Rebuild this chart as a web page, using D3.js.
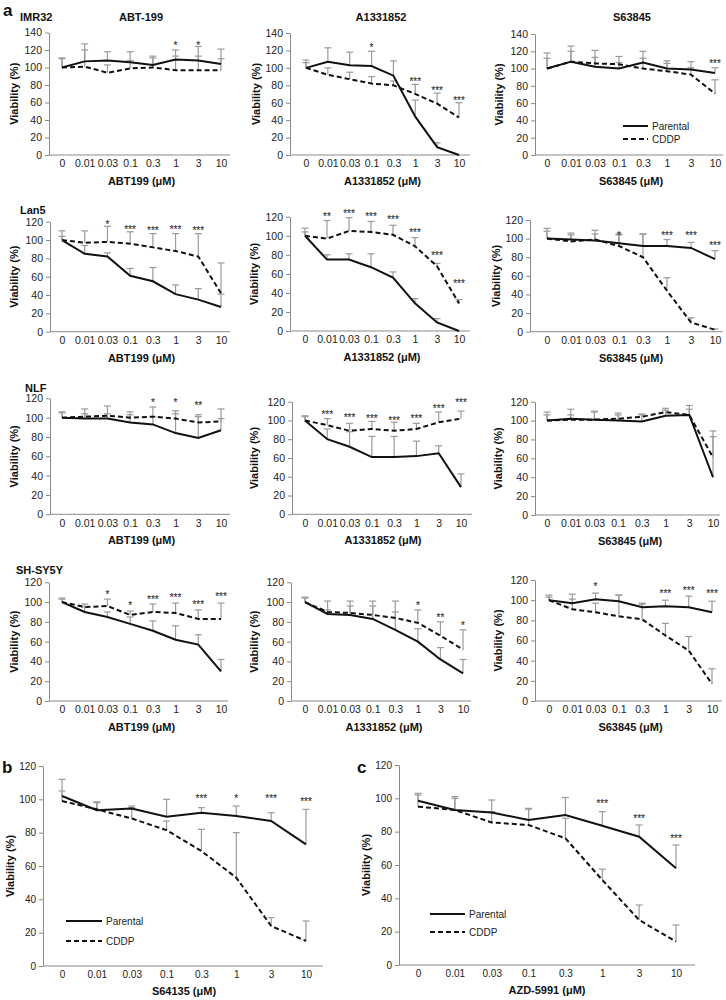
<!DOCTYPE html>
<html><head><meta charset="utf-8">
<script src="https://cdn.jsdelivr.net/npm/d3@7"></script>
<style>
body{margin:0;background:#fff}
svg{display:block;font-family:"Liberation Sans",Arial,Helvetica,sans-serif}
</style>
</head><body>
<svg id="chart" width="726" height="1000"></svg>
<script>
// ---------------- DATA ----------------
const concentrations = ["0","0.01","0.03","0.1","0.3","1","3","10"];
const cellLines = ["IMR32","Lan5","NLF","SH-SY5Y"];
const drugTitles = ["ABT-199","A1331852","S63845"];
const drugAxisLabels = ["ABT199 (μM)","A1331852 (μM)","S63845 (μM)"];
const seriesNames = ["Parental","CDDP"];
const yTicks140 = [0,20,40,60,80,100,120,140];
const yTicks120 = [0,20,40,60,80,100,120];

// IMR32
const IMR32_ABT199_parental    = [100,107,108,106,103,109,108,104];
const IMR32_ABT199_cddp        = [100,101,94,99,100,97,97,97];
const IMR32_ABT199_parentalErr = [111,127,118,118,113,120,124,121];
const IMR32_ABT199_cddpErr     = [110,120,103,108,111,113,113,110];
const IMR32_ABT199_stars       = ["","","","","","*","*",""];
const IMR32_ABT199_starLevels  = [0,0,0,0,0,128,128,0];

const IMR32_A1331852_parental    = [100,107,103,102,91,44,9,0];
const IMR32_A1331852_cddp        = [100,92,87,82,80,70,59,43];
const IMR32_A1331852_parentalErr = [109,123,118,119,108,63,14,0];
const IMR32_A1331852_cddpErr     = [106,100,95,90,85,81,71,60];
const IMR32_A1331852_stars       = ["","","","*","","***","***","***"];
const IMR32_A1331852_starLevels  = [0,0,0,126,0,87,76,65];

const IMR32_S63845_parental    = [100,108,102,100,107,100,99,95];
const IMR32_S63845_cddp        = [100,108,106,105,100,97,93,71];
const IMR32_S63845_parentalErr = [118,126,113,114,120,109,108,101];
const IMR32_S63845_cddpErr     = [112,120,121,107,112,106,101,87];
const IMR32_S63845_stars       = ["","","","","","","","***"];
const IMR32_S63845_starLevels  = [0,0,0,0,0,0,0,108];

// Lan5
const Lan5_ABT199_parental    = [100,85,82,61,55,41,35,27];
const Lan5_ABT199_cddp        = [100,97,98,96,92,88,82,42];
const Lan5_ABT199_parentalErr = [104,94,86,69,70,51,47,41];
const Lan5_ABT199_cddpErr     = [110,110,115,109,107,107,107,75];
const Lan5_ABT199_stars       = ["","","*","***","***","***","***",""];
const Lan5_ABT199_starLevels  = [0,0,119,114,113,114,113,0];

const Lan5_A1331852_parental    = [100,75,75,67,56,29,9,0];
const Lan5_A1331852_cddp        = [100,97,105,104,101,89,68,29];
const Lan5_A1331852_parentalErr = [104,80,81,81,62,34,13,0];
const Lan5_A1331852_cddpErr     = [108,116,119,115,111,98,71,33];
const Lan5_A1331852_stars       = ["","**","***","***","***","***","***","***"];
const Lan5_A1331852_starLevels  = [0,122,125,122,119,105,81,52];

const Lan5_S63845_parental    = [100,99,98,95,92,92,90,78];
const Lan5_S63845_cddp        = [100,97,99,92,80,44,10,2];
const Lan5_S63845_parentalErr = [108,106,109,105,105,99,96,87];
const Lan5_S63845_cddpErr     = [111,104,105,104,105,58,15,3];
const Lan5_S63845_stars       = ["","","","*","","***","***","***"];
const Lan5_S63845_starLevels  = [0,0,0,106,0,106,105,95];

// NLF
const NLF_ABT199_parental    = [100,99,99,95,93,84,79,87];
const NLF_ABT199_cddp        = [100,101,102,100,101,99,95,96];
const NLF_ABT199_parentalErr = [105,104,104,103,101,104,101,99];
const NLF_ABT199_cddpErr     = [106,109,112,106,111,107,103,109];
const NLF_ABT199_stars       = ["","","","","*","*","**",""];
const NLF_ABT199_starLevels  = [0,0,0,0,118,118,115,0];

const NLF_A1331852_parental    = [100,80,72,61,61,62,65,29];
const NLF_A1331852_cddp        = [100,95,89,91,89,91,98,102];
const NLF_A1331852_parentalErr = [104,91,88,83,83,78,73,43];
const NLF_A1331852_cddpErr     = [105,102,97,99,98,97,109,110];
const NLF_A1331852_stars       = ["","***","***","***","***","***","***","***"];
const NLF_A1331852_starLevels  = [0,109,105,104,102,104,115,121];

const NLF_S63845_parental    = [100,102,101,100,99,105,106,40];
const NLF_S63845_cddp        = [100,101,101,102,104,109,106,61];
const NLF_S63845_parentalErr = [106,112,110,108,107,113,116,83];
const NLF_S63845_cddpErr     = [109,106,109,106,106,111,112,89];
const NLF_S63845_stars       = ["","","","","","","",""];
const NLF_S63845_starLevels  = [0,0,0,0,0,0,0,0];

// SH-SY5Y
const SHSY5Y_ABT199_parental    = [100,90,85,78,71,62,57,30];
const SHSY5Y_ABT199_cddp        = [100,95,96,87,90,89,83,83];
const SHSY5Y_ABT199_parentalErr = [103,95,90,85,81,76,67,42];
const SHSY5Y_ABT199_cddpErr     = [104,98,103,91,98,99,92,99];
const SHSY5Y_ABT199_stars       = ["","","*","*","***","***","***","***"];
const SHSY5Y_ABT199_starLevels  = [0,0,110,99,105,107,100,108];

const SHSY5Y_A1331852_parental    = [100,88,87,83,72,60,42,28];
const SHSY5Y_A1331852_cddp        = [100,90,89,87,84,79,66,52];
const SHSY5Y_A1331852_parentalErr = [105,92,96,96,101,73,54,42];
const SHSY5Y_A1331852_cddpErr     = [104,101,101,101,90,92,80,72];
const SHSY5Y_A1331852_stars       = ["","","","","","*","**","*"];
const SHSY5Y_A1331852_starLevels  = [0,0,0,0,0,99,86,78];

const SHSY5Y_S63845_parental    = [100,97,101,99,93,94,93,88];
const SHSY5Y_S63845_cddp        = [100,91,88,84,81,65,50,17];
const SHSY5Y_S63845_parentalErr = [105,106,107,105,97,100,104,99];
const SHSY5Y_S63845_cddpErr     = [103,101,97,105,96,77,64,32];
const SHSY5Y_S63845_stars       = ["","","*","","","***","***","***"];
const SHSY5Y_S63845_starLevels  = [0,0,116,0,0,109,112,109];

// b: S64135
const S64135_parental    = [102,93.5,94.5,89.5,92,90,87,73];
const S64135_cddp        = [99,94,88.5,81.5,69,53,24,15];
const S64135_parentalErr = [112,98,96,100,95,96,92,94];
const S64135_cddpErr     = [105,98.5,95,87,82,80,29,27];
const S64135_stars       = ["","","","","***","*","***","***"];
const S64135_starLevels  = [0,0,0,0,102,102,102,100];

// c: AZD-5991
const AZD5991_parental    = [98.5,93,91.5,87,90,83.5,77,58];
const AZD5991_cddp        = [95,93,85.5,84,76,51,27,14];
const AZD5991_parentalErr = [102,101,99,94,100.5,92,84,72];
const AZD5991_cddpErr     = [103,100,92,93.5,88,57.5,36,24];
const AZD5991_stars       = ["","","","","","***","***","***"];
const AZD5991_starLevels  = [0,0,0,0,0,98,89,77];

// ---------------- LAYOUT ----------------
const svg = d3.select("#chart");
const AXIS = "#8a8a8a", ERR = "#9a9a9a", INK = "#111";

const panels = [
 {d:[IMR32_ABT199_parental,IMR32_ABT199_cddp,IMR32_ABT199_parentalErr,IMR32_ABT199_cddpErr,IMR32_ABT199_stars,IMR32_ABT199_starLevels], ticks:yTicks140, xl:drugAxisLabels[0], L:{ax:49,xe:230,c0:62,c1:221,yt:32.5,y0:155,yl:14}},
 {d:[IMR32_A1331852_parental,IMR32_A1331852_cddp,IMR32_A1331852_parentalErr,IMR32_A1331852_cddpErr,IMR32_A1331852_stars,IMR32_A1331852_starLevels], ticks:yTicks140, xl:drugAxisLabels[1], L:{ax:290,xe:470,c0:306,c1:459,yt:33,y0:155,yl:256}},
 {d:[IMR32_S63845_parental,IMR32_S63845_cddp,IMR32_S63845_parentalErr,IMR32_S63845_cddpErr,IMR32_S63845_stars,IMR32_S63845_starLevels], ticks:yTicks140, xl:drugAxisLabels[2], L:{ax:535,xe:723,c0:547,c1:715,yt:34,y0:155,yl:499}, legend:{x:623,y:126}},

 {d:[Lan5_ABT199_parental,Lan5_ABT199_cddp,Lan5_ABT199_parentalErr,Lan5_ABT199_cddpErr,Lan5_ABT199_stars,Lan5_ABT199_starLevels], ticks:yTicks120, xl:drugAxisLabels[0], L:{ax:50,xe:230,c0:62,c1:221,yt:221.7,y0:331.7,yl:14}},
 {d:[Lan5_A1331852_parental,Lan5_A1331852_cddp,Lan5_A1331852_parentalErr,Lan5_A1331852_cddpErr,Lan5_A1331852_stars,Lan5_A1331852_starLevels], ticks:yTicks120, xl:drugAxisLabels[1], L:{ax:290,xe:470,c0:305,c1:459,yt:216.7,y0:331,yl:254}},
 {d:[Lan5_S63845_parental,Lan5_S63845_cddp,Lan5_S63845_parentalErr,Lan5_S63845_cddpErr,Lan5_S63845_stars,Lan5_S63845_starLevels], ticks:yTicks120, xl:drugAxisLabels[2], L:{ax:530,xe:723,c0:547,c1:715,yt:220,y0:331.7,yl:496}},

 {d:[NLF_ABT199_parental,NLF_ABT199_cddp,NLF_ABT199_parentalErr,NLF_ABT199_cddpErr,NLF_ABT199_stars,NLF_ABT199_starLevels], ticks:yTicks120, xl:drugAxisLabels[0], L:{ax:50,xe:230,c0:62,c1:221,yt:398.3,y0:514.3,yl:14}},
 {d:[NLF_A1331852_parental,NLF_A1331852_cddp,NLF_A1331852_parentalErr,NLF_A1331852_cddpErr,NLF_A1331852_stars,NLF_A1331852_starLevels], ticks:yTicks120, xl:drugAxisLabels[1], L:{ax:292,xe:472,c0:305,c1:461,yt:401.7,y0:514.3,yl:254}},
 {d:[NLF_S63845_parental,NLF_S63845_cddp,NLF_S63845_parentalErr,NLF_S63845_cddpErr,NLF_S63845_stars,NLF_S63845_starLevels], ticks:yTicks120, xl:drugAxisLabels[2], L:{ax:535,xe:720,c0:547,c1:713,yt:401.7,y0:515,yl:498}},

 {d:[SHSY5Y_ABT199_parental,SHSY5Y_ABT199_cddp,SHSY5Y_ABT199_parentalErr,SHSY5Y_ABT199_cddpErr,SHSY5Y_ABT199_stars,SHSY5Y_ABT199_starLevels], ticks:yTicks120, xl:drugAxisLabels[0], L:{ax:49,xe:228,c0:62,c1:221,yt:582.3,y0:701,yl:14}},
 {d:[SHSY5Y_A1331852_parental,SHSY5Y_A1331852_cddp,SHSY5Y_A1331852_parentalErr,SHSY5Y_A1331852_cddpErr,SHSY5Y_A1331852_stars,SHSY5Y_A1331852_starLevels], ticks:yTicks120, xl:drugAxisLabels[1], L:{ax:291,xe:471,c0:305,c1:463,yt:582.3,y0:701,yl:254}},
 {d:[SHSY5Y_S63845_parental,SHSY5Y_S63845_cddp,SHSY5Y_S63845_parentalErr,SHSY5Y_S63845_cddpErr,SHSY5Y_S63845_stars,SHSY5Y_S63845_starLevels], ticks:yTicks120, xl:drugAxisLabels[2], L:{ax:535,xe:722,c0:549,c1:712,yt:580,y0:701,yl:498}},

 {d:[S64135_parental,S64135_cddp,S64135_parentalErr,S64135_cddpErr,S64135_stars,S64135_starLevels], ticks:yTicks120, xl:"S64135 (μM)", big:true, L:{ax:43,xe:323,c0:62,c1:306,yt:766,y0:966,yl:10}, legend:{x:66,y:921,gap:20,tx:106}},
 {d:[AZD5991_parental,AZD5991_cddp,AZD5991_parentalErr,AZD5991_cddpErr,AZD5991_stars,AZD5991_starLevels], ticks:yTicks120, xl:"AZD-5991 (μM)", big:true, L:{ax:399,xe:695,c0:418,c1:676,yt:765,y0:965,yl:366}, legend:{x:430,y:914,gap:18,tx:469}}
];

function drawPanel(p){
  const L = p.L;
  const [par, cd, pErr, cErr, stars, starLv] = p.d;
  const g = svg.append("g");
  const x = d3.scalePoint().domain(concentrations).range([L.c0, L.c1]);
  const yMax = p.ticks[p.ticks.length-1];
  const y = d3.scaleLinear().domain([0, yMax]).range([L.y0, L.yt]);
  const tickFs = p.big ? 10 : 10.5;

  // y axis
  const ya = g.append("g").attr("transform", `translate(${L.ax},0)`)
    .call(d3.axisLeft(y).tickValues(p.ticks).tickSize(4).tickSizeOuter(0).tickPadding(3));
  ya.select(".domain").attr("stroke", AXIS);
  ya.selectAll(".tick line").attr("stroke", AXIS);
  ya.selectAll(".tick text").attr("fill", "#222").style("font-size", tickFs+"px")
    .style("font-family", p.big ? '"Liberation Sans Narrow","Liberation Sans",Arial,sans-serif' : null);

  // x axis
  g.append("line").attr("x1", L.ax).attr("x2", L.xe).attr("y1", y(0)).attr("y2", y(0))
    .attr("stroke", AXIS).attr("stroke-width", 1);
  const xa = g.append("g").attr("transform", `translate(0,${y(0)})`)
    .call(d3.axisBottom(x).tickSize(0).tickPadding(5));
  xa.select(".domain").remove();
  xa.selectAll(".tick text").attr("fill", "#222").style("font-size", tickFs+"px")
    .style("font-family", p.big ? '"Liberation Sans Narrow","Liberation Sans",Arial,sans-serif' : null);

  // axis titles
  g.append("text").attr("x", (L.c0+L.c1)/2).attr("y", y(0) + (p.big ? 29 : 30))
    .attr("text-anchor","middle").style("font-size","11px").style("font-weight","bold")
    .attr("fill","#111").text(p.xl);
  g.append("text").attr("transform", `translate(${L.yl},${(L.yt+L.y0)/2}) rotate(-90)`)
    .attr("text-anchor","middle").attr("dy","0.35em").style("font-size","11px").style("font-weight","bold")
    .attr("fill","#111").text("Viability (%)");

  // error bars (upper only)
  [[par,pErr],[cd,cErr]].forEach(([m,e]) => {
    concentrations.forEach((c,i) => {
      if (e[i] <= m[i]) return;
      const cx = x(c);
      g.append("line").attr("x1",cx).attr("x2",cx).attr("y1",y(m[i])).attr("y2",y(e[i]))
        .attr("stroke",ERR).attr("stroke-width",1.2);
      g.append("line").attr("x1",cx-3.5).attr("x2",cx+3.5).attr("y1",y(e[i])).attr("y2",y(e[i]))
        .attr("stroke",ERR).attr("stroke-width",1.2);
    });
  });

  // lines
  const line = d3.line().x((v,i)=>x(concentrations[i])).y(v=>y(v));
  g.append("path").datum(cd).attr("d", line).attr("fill","none").attr("stroke",INK)
    .attr("stroke-width",2).attr("stroke-dasharray","5,3");
  g.append("path").datum(par).attr("d", line).attr("fill","none").attr("stroke",INK)
    .attr("stroke-width",2);

  // significance stars
  concentrations.forEach((c,i) => {
    if (!stars[i]) return;
    g.append("text").attr("x", x(c)).attr("y", y(starLv[i]) + 5.5)
      .attr("text-anchor","middle").style("font-size","10px")
      .attr("fill","#333").attr("stroke","#333").attr("stroke-width",0.15)
      .text(stars[i]);
  });

  // legend
  if (p.legend) {
    const lg = p.legend, gap = lg.gap || 13, tx = lg.tx || (lg.x + 29), len = (tx - 4) - lg.x;
    seriesNames.forEach((s,k) => {
      const yy = lg.y + k*gap;
      g.append("line").attr("x1", lg.x).attr("x2", lg.x+len).attr("y1", yy).attr("y2", yy)
        .attr("stroke", INK).attr("stroke-width", 2).attr("stroke-dasharray", k ? "5,3" : null);
      g.append("text").attr("x", tx).attr("y", yy).attr("dy","0.35em")
        .style("font-size", "10px").attr("fill","#222").text(s);
    });
  }
}
panels.forEach(drawPanel);

// ---------------- TITLES ----------------
const bold = (t, x, y, fs, anchor) => svg.append("text").attr("x",x).attr("y",y)
  .attr("text-anchor",anchor||"start").attr("dy","0.35em").style("font-size",fs+"px")
  .style("font-weight","bold").attr("fill","#111").text(t);
bold("a", 3, 10, 17);
bold("b", 2, 767, 17);
bold("c", 357, 767, 17);
bold(cellLines[0], 20, 17, 11);
bold(cellLines[1], 20, 210, 11);
bold(cellLines[2], 25, 388, 11);
bold(cellLines[3], 16, 570, 11);
bold(drugTitles[0], 141, 17, 11, "middle");
bold(drugTitles[1], 381, 17, 11, "middle");
bold(drugTitles[2], 632, 17, 11, "middle");
</script>
</body></html>
